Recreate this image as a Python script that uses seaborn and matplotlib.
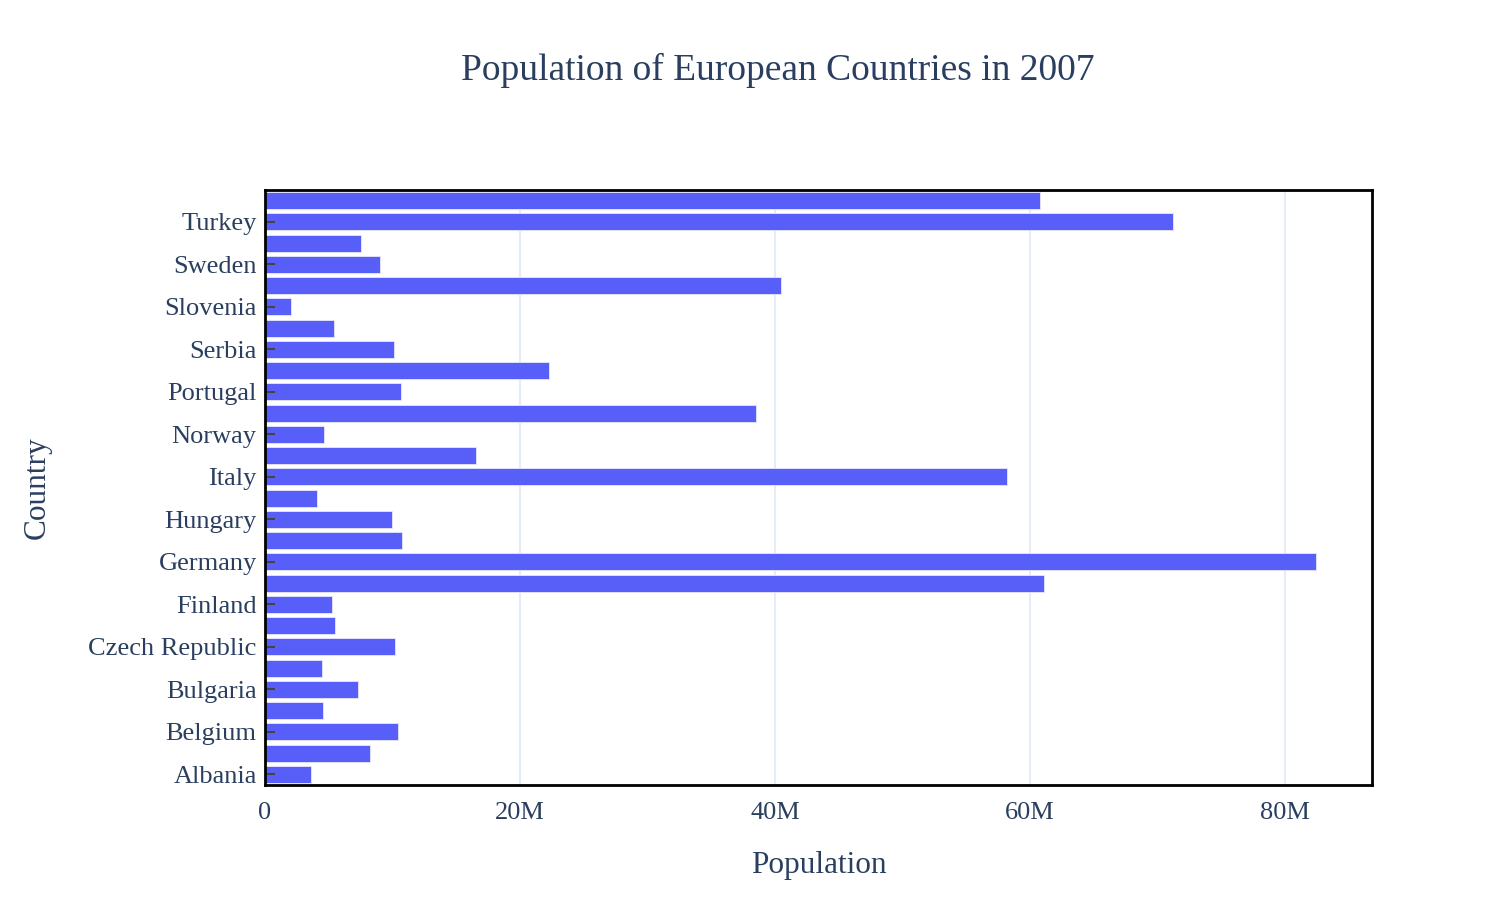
import matplotlib
matplotlib.use('Agg')
import matplotlib.pyplot as plt
import seaborn as sns
import pandas as pd
from matplotlib.ticker import FuncFormatter

# Gapminder Europe 2007 (Iceland, Montenegro not shown)
countries = ['Albania', 'Austria', 'Belgium', 'Bosnia and Herzegovina', 'Bulgaria',
             'Croatia', 'Czech Republic', 'Denmark', 'Finland', 'France', 'Germany',
             'Greece', 'Hungary', 'Ireland', 'Italy', 'Netherlands', 'Norway', 'Poland',
             'Portugal', 'Romania', 'Serbia', 'Slovak Republic', 'Slovenia', 'Spain',
             'Sweden', 'Switzerland', 'Turkey', 'United Kingdom']
population = [3600523, 8199783, 10392226, 4552198, 7322858,
              4493312, 10228744, 5468120, 5238460, 61083916, 82400996,
              10706290, 9956108, 4109086, 58147733, 16570613, 4627926, 38518241,
              10642836, 22276056, 10150265, 5447502, 2009245, 40448191,
              9031088, 7554661, 71158647, 60776238]
x_ticks = [0, 20e6, 40e6, 60e6, 80e6]

df = pd.DataFrame({'Country': countries, 'Population': population})

sns.set_style('white')
plt.rcParams['font.family'] = ['Liberation Serif', 'DejaVu Serif']
text_color = '#2a3f5f'

fig = plt.figure(figsize=(15.12, 9.06), dpi=100)
ax = fig.add_axes([265 / 1512, 1 - 785 / 906, (1372 - 265) / 1512, (785 - 190) / 906])

# vertical grid under the bars
for t in x_ticks[1:]:
    ax.axvline(t, color='#e5ecf6', linewidth=1.5, zorder=0)

order = countries[::-1]
sns.barplot(data=df, x='Population', y='Country', order=order, orient='h',
            color='#585ff9', saturation=1, width=0.8,
            edgecolor='#e6e8fd', linewidth=0.6, ax=ax, zorder=2)

ax.set_xlim(0, 86.8e6)
ax.set_ylim(len(order) - 0.5, -0.5)

# every second country gets a label
shown = countries[::2]
ax.set_yticks([order.index(c) for c in shown])
ax.set_yticklabels(shown)

ax.set_xticks(x_ticks)
ax.xaxis.set_major_formatter(FuncFormatter(lambda v, p: '0' if v == 0 else f'{v / 1e6:.0f}M'))
ax.grid(False)
ax.set_axisbelow(False)  # tick marks drawn over the bars

ax.tick_params(axis='y', left=True, direction='in', length=7, width=1.5, color='#444444',
               labelsize=19, labelcolor=text_color, pad=6)
ax.tick_params(axis='x', bottom=False, length=0, labelsize=19, labelcolor=text_color, pad=12)

for s in ax.spines.values():
    s.set_visible(True)
    s.set_color('black')
    s.set_linewidth(2)
    s.set_zorder(3)

ax.set_xlabel('Population', fontsize=22.5, color=text_color, labelpad=20)
ax.set_ylabel('Country', fontsize=22.5, color=text_color, labelpad=0)
ax.yaxis.set_label_coords(-(265 - 52) / (1372 - 265), 0.5)

fig.text(778 / 1512, 1 - 70 / 906, 'Population of European Countries in 2007',
         ha='center', va='center', fontsize=27, color=text_color)

fig.savefig('out.png', dpi=100)
